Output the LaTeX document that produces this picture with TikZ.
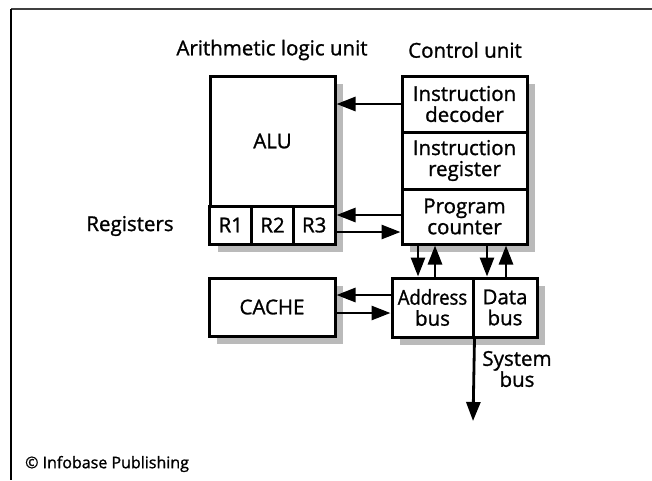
\documentclass[tikz,border=0pt]{standalone}
\usepackage{fontspec}
\setmainfont{Open Sans}[FakeBold=1.2]
\usetikzlibrary{arrows.meta}
\begin{document}
\begin{tikzpicture}[x=1pt,y=-1pt,
  box/.style={draw=black,line width=3pt,fill=white,inner sep=0pt,align=center,font=\fontsize{20.5}{21}\selectfont},
  shadow/.style={fill=black!27},
  arr/.style={line width=2.8pt,-{Triangle[length=19pt,width=14pt]}},
  lbl/.style={font=\fontsize{20.5}{21}\selectfont,inner sep=0pt,align=center}]
\useasboundingbox (0,0) rectangle (652,480);
% frame
\draw[line width=1.8pt,black!75] (11,9) -- (652,9);
\draw[line width=1.8pt,black] (11,9) -- (11,480);
% shadows
\fill[shadow] (218,84) rectangle (343,252);
\fill[shadow] (410,84) rectangle (535,252);
\fill[shadow] (400,286) rectangle (545,345);
\fill[shadow] (217,286) rectangle (343,344);
% ALU
\node[box,minimum width=125pt,minimum height=130pt] (alu) at (272.5,141) {ALU};
\node[box,minimum width=41.7pt,minimum height=38pt] (r1) at (230.8,225) {R1};
\node[box,minimum width=41.7pt,minimum height=38pt] (r2) at (272.5,225) {R2};
\node[box,minimum width=41.7pt,minimum height=38pt] (r3) at (314.2,225) {R3};
% Control unit
\node[box,minimum width=125pt,minimum height=56pt] (id) at (464.5,104) {Instruction\\decoder};
\node[box,minimum width=125pt,minimum height=57pt] (ir) at (464.5,160.5) {Instruction\\register};
\node[box,minimum width=125pt,minimum height=55pt] (pc) at (464.5,216.5) {Program\\counter};
% bus
\node[box,minimum width=81pt,minimum height=59pt] (ab) at (432.5,307.5) {{\addfontfeature{FakeStretch=0.9}Address}\\bus};
\node[box,minimum width=64pt,minimum height=59pt] (db) at (505,307.5) {Data\\bus};
% cache
\node[box,minimum width=126pt,minimum height=58pt] (cache) at (272,307) {CACHE};
% labels
\node[lbl] (t1) at (272,50) {Arithmetic logic unit};
\node[lbl] (t2) at (465,50) {Control unit};
\node[lbl] (t3) at (130,226) {Registers};
\node[lbl] (t4) at (517,369) {System\\bus};
\node[font=\fontsize{16}{18}\selectfont,inner sep=0pt,anchor=west] (t5) at (25,464) {© Infobase Publishing};
% arrows
\draw[arr] (id.west) -- (id.west -| alu.east);
\draw[arr] (pc.west |- 0,215) -- (r3.east |- 0,215);
\draw[arr] (r3.east |- 0,232) -- (pc.west |- 0,232);
\draw[arr] (418,0 |- pc.south) -- (418,0 |- ab.north);
\draw[arr] (435,0 |- ab.north) -- (435,0 |- pc.south);
\draw[arr] (487,0 |- pc.south) -- (487,0 |- db.north);
\draw[arr] (506,0 |- db.north) -- (506,0 |- pc.south);
\draw[arr] (ab.west |- 0,295) -- (cache.east |- 0,295);
\draw[arr] (cache.east |- 0,313) -- (ab.west |- 0,313);
\coordinate (sb) at (473,421);
\draw[arr] (ab.south east) -- (sb);
\end{tikzpicture}
\end{document}
